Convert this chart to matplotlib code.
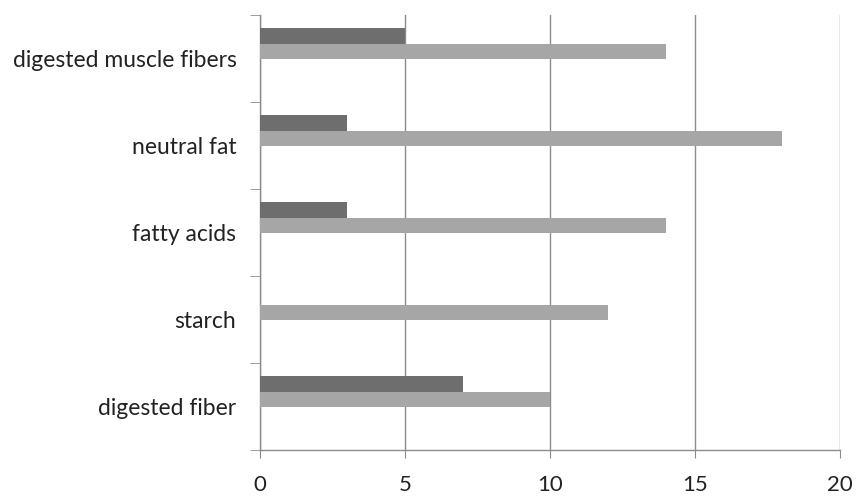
import numpy as np
import matplotlib.pyplot as plt

# categories listed bottom to top
kategorie = ["digested fiber", "starch", "fatty acids", "neutral fat", "digested muscle fibers"]
seria_ciemna = [7, 0, 3, 3, 5]
seria_jasna = [10, 12, 14, 18, 14]
x_ticks = [0, 5, 10, 15, 20]

plt.rcParams['font.family'] = ['Lato', 'DejaVu Sans']

fig = plt.figure(figsize=(8.57, 4.98), dpi=100)
ax = fig.add_axes([0.3034, 0.0964, 0.980 - 0.3034, 0.970 - 0.0964])

y = np.arange(len(kategorie))
h = 0.18
ax.barh(y + 0.26, seria_ciemna, height=h, color='#6e6e6e', zorder=3)
ax.barh(y + 0.08, seria_jasna, height=h, color='#a6a6a6', zorder=3)

ax.set_xlim(0, 20)
ax.set_ylim(-0.5, len(kategorie) - 0.5)

szary = '#8c8c8c'
ax.set_xticks(x_ticks)
ax.set_xticklabels([str(t) for t in x_ticks], fontsize=16, color='#222222')
ax.xaxis.grid(True, color=szary, linewidth=1.0, zorder=0)
ax.tick_params(axis='x', direction='out', length=6, color=szary, pad=12)

ax.set_yticks(y)
ax.set_yticklabels(kategorie, fontsize=16.5, color='#222222')
ax.tick_params(axis='y', which='major', length=0, pad=17)
ax.set_yticks(np.arange(-0.5, len(kategorie)), minor=True)
ax.tick_params(axis='y', which='minor', direction='out', length=7, color=szary)

for s in ['top', 'right']:
    ax.spines[s].set_visible(False)
for s in ['left', 'bottom']:
    ax.spines[s].set_color(szary)
    ax.spines[s].set_linewidth(1.0)

plt.savefig("out.png", dpi=100)
